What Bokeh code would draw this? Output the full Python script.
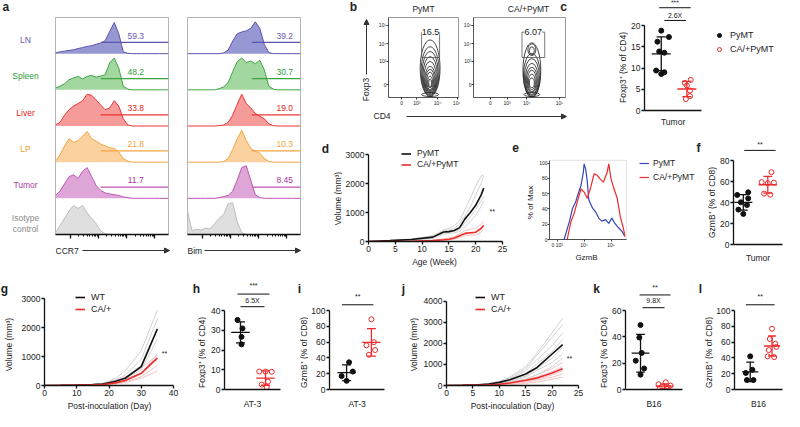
import numpy as np
from bokeh.plotting import figure
from bokeh.layouts import row, column
from bokeh.models import Arrow, NormalHead, Legend, LegendItem, FixedTicker, Range1d, BoxAnnotation
from bokeh.core.properties import value
from bokeh.embed import file_html
from bokeh.resources import INLINE

FONT = "Liberation Sans"
INK = "#222222"
RED = "#ee2b2b"
GREY = "#d2d2d2"
PINK = "#f6c4c4"

# ---------------- data: panel a (flow histograms) ----------------
a_rows = ["LN", "Spleen", "Liver", "LP", "Tumor"]
a_text = ["#6a55b2", "#2f9e3a", "#e52222", "#f2a12e", "#a8359c", "#8a8a8a"]
a_fill = ["#8585cc", "#93d08f", "#f38a88", "#f9c98e", "#d896d0", "#d9d9d9"]
a_line = ["#5a55ad", "#3da343", "#ee3535", "#f3a443", "#bf55b4", "#bdbdbd"]
hist_x = [0, 4, 8, 12, 16, 20, 24, 28, 32, 36, 40, 44, 48, 52, 56, 60, 64, 68, 72, 76, 80, 84, 88, 92, 96, 100]
ccr7_ln = [0.02, 0.05, 0.07, 0.09, 0.11, 0.14, 0.17, 0.20, 0.22, 0.26, 0.29, 0.36, 0.62, 0.86, 0.55, 0.05, 0.01, 0, 0, 0, 0, 0, 0, 0, 0, 0]
ccr7_spleen = [0.05, 0.10, 0.17, 0.28, 0.33, 0.37, 0.30, 0.37, 0.40, 0.35, 0.38, 0.42, 0.75, 0.88, 0.60, 0.10, 0.02, 0, 0, 0, 0, 0, 0, 0, 0, 0]
ccr7_liver = [0.03, 0.10, 0.30, 0.45, 0.55, 0.62, 0.70, 0.88, 0.85, 0.72, 0.58, 0.45, 0.50, 0.70, 0.55, 0.20, 0.03, 0, 0, 0, 0, 0, 0, 0, 0, 0]
ccr7_lp = [0.03, 0.20, 0.45, 0.65, 0.55, 0.60, 0.72, 0.85, 0.65, 0.58, 0.50, 0.45, 0.40, 0.38, 0.28, 0.10, 0.03, 0, 0, 0, 0, 0, 0, 0, 0, 0]
ccr7_tumor = [0.08, 0.20, 0.40, 0.60, 0.65, 0.55, 0.75, 0.85, 0.60, 0.35, 0.22, 0.15, 0.12, 0.10, 0.08, 0.04, 0.02, 0, 0, 0, 0, 0, 0, 0, 0, 0]
ccr7_iso = [0.05, 0.25, 0.45, 0.65, 0.80, 0.72, 0.80, 0.60, 0.45, 0.30, 0.10, 0.02, 0, 0, 0, 0, 0, 0, 0, 0, 0, 0, 0, 0, 0, 0]
bim_ln = [0, 0, 0, 0, 0, 0, 0, 0, 0.02, 0.10, 0.35, 0.55, 0.60, 0.63, 0.70, 0.88, 0.70, 0.25, 0.03, 0, 0, 0, 0, 0, 0, 0]
bim_spleen = [0, 0, 0, 0, 0, 0, 0, 0.03, 0.08, 0.20, 0.50, 0.78, 0.88, 0.75, 0.80, 0.72, 0.82, 0.55, 0.10, 0.02, 0, 0, 0, 0, 0, 0]
bim_liver = [0, 0, 0, 0, 0, 0, 0, 0.01, 0.03, 0.10, 0.30, 0.60, 0.88, 0.62, 0.50, 0.35, 0.27, 0.20, 0.06, 0.01, 0, 0, 0, 0, 0, 0]
bim_lp = [0, 0, 0, 0, 0, 0, 0, 0, 0.02, 0.10, 0.35, 0.65, 0.88, 0.60, 0.38, 0.30, 0.25, 0.10, 0.02, 0, 0, 0, 0, 0, 0, 0]
bim_tumor = [0, 0, 0, 0, 0, 0, 0, 0.02, 0.05, 0.08, 0.20, 0.50, 0.85, 0.90, 0.50, 0.10, 0.02, 0, 0, 0, 0, 0, 0, 0, 0, 0]
bim_iso = [0.65, 0.10, 0.15, 0.12, 0.18, 0.15, 0.30, 0.45, 0.55, 0.85, 0.88, 0.35, 0.05, 0, 0, 0, 0, 0, 0, 0, 0, 0, 0, 0, 0, 0]
ccr7_pct = ["59.3", "48.2", "33.8", "21.8", "11.7"]
bim_pct = ["39.2", "30.7", "19.0", "10.3", "8.45"]

# ---------------- data: panel b (contours) ----------------
flow_yticks = [0, 24, 42, 61]
flow_ylabels = ["0", "10³", "10⁴", "10⁵"]
b1_xticks = [1.0, 1.8, 2.9, 3.95]
b2_xticks = [1.0, 1.85, 2.85, 4.5]
flow_xlabels = ["0", "10³", "10⁴", "10⁵"]
pymt_cx = 2.5
pymt_cy = [17, 14, 12, 10, 8, 6, 5, 4, 3, 2, -10]
pymt_w = [1.05, 0.95, 0.85, 0.75, 0.65, 0.55, 0.45, 0.35, 0.25, 0.15, 0.9]
pymt_h = [58, 50, 44, 38, 32, 26, 22, 18, 12, 8, 4]
ca_cx = 3.1
ca_cy = [15, 10, 8, 6, 5, 4, 3, 2, 36, 35, -10]
ca_w = [0.9, 0.85, 0.75, 0.65, 0.55, 0.45, 0.35, 0.25, 0.4, 0.25, 0.8]
ca_h = [56, 44, 38, 32, 26, 22, 16, 10, 12, 8, 4]
pymt_gate = [2.05, 3.0, 28, 54]
ca_gate = [2.6, 3.75, 28, 54]

# ---------------- data: dot plots ----------------
c_pymt = [18.8, 17.3, 16.2, 13.9, 13.6, 9.4, 9.0, 8.6]
c_pymt_dx = [0, 0.3, -0.15, -0.08, 0.12, -0.2, 0.12, 0]
c_ca = [7.2, 6.5, 5.9, 4.7, 3.4, 2.7]
c_ca_dx = [0.15, -0.08, 0, 0.12, 0.12, -0.04]
f_pymt = [49.8, 47.3, 44.0, 40.3, 37.7, 33.3, 29.2]
f_pymt_dx = [0.2, -0.25, 0.2, -0.1, 0.15, -0.2, 0.0]
f_ca = [69, 59.5, 58.5, 59, 48.5, 47.5]
f_ca_dx = [0.15, -0.25, 0.0, 0.25, -0.15, 0.1]
h_wt = [35.3, 31.0, 26.7, 22.9]
h_wt_dx = [-0.12, 0.08, 0.04, 0.04]
h_ca = [9.1, 9.1, 9.0, 4.0, 2.5, 1.2]
h_ca_dx = [-0.25, 0.0, 0.25, 0.1, -0.15, 0.05]
i_wt = [34.5, 22.7, 17.0, 11.0]
i_wt_dx = [0.1, 0.25, -0.2, 0.0]
i_ca = [89, 60, 56, 50, 44]
i_ca_dx = [0.0, 0.1, -0.2, 0.15, -0.1]
k_wt = [49.0, 39.5, 27.8, 21.9, 16.0, 11.3]
k_wt_dx = [0, -0.05, 0.05, -0.2, 0.15, 0.0]
k_ca = [5.5, 4.0, 3.0, 2.0, 1.5, 1.0, 0.5]
k_ca_dx = [0.05, -0.25, 0.25, -0.1, 0.15, -0.2, 0.1]
l_wt = [42, 25, 21, 12, 12]
l_wt_dx = [0.0, 0.1, -0.2, -0.15, 0.15]
l_ca = [77, 64, 58, 54, 50, 42, 41]
l_ca_dx = [0.0, -0.1, 0.15, 0.2, -0.15, -0.2, 0.1]

# ---------------- data: growth curves ----------------
d_week = [0, 4, 8, 12, 14, 15, 16, 17, 18, 19, 20, 21, 21.5]
d_pymt = [0, 30, 70, 150, 330, 340, 380, 480, 780, 1000, 1250, 1600, 1840]
d_ca = [0, 0, 10, 30, 60, 80, 120, 200, 280, 300, 320, 450, 560]
d_pymt_ind = [
    [0, 40, 90, 200, 400, 450, 550, 700, 1100, 1500, 1900, 2250, 2300],
    [0, 30, 80, 170, 350, 400, 450, 600, 900, 1200, 1600, 2000, 2250],
    [0, 20, 60, 130, 300, 320, 350, 420, 650, 850, 1100, 1400, 1550],
    [0, 20, 50, 100, 250, 280, 300, 350, 500, 700, 900, 1200, 1400],
]
d_ca_ind = [
    [0, 5, 20, 50, 90, 120, 170, 260, 380, 420, 450, 600, 700],
    [0, 0, 10, 30, 60, 80, 110, 180, 250, 280, 300, 400, 520],
    [0, 0, 5, 15, 30, 50, 80, 140, 200, 220, 230, 320, 420],
]
g_day = [0, 5, 10, 15, 18, 20, 22, 25, 30, 35]
g_wt = [0, 5, 15, 30, 50, 90, 150, 250, 650, 1950]
g_ca = [0, 3, 10, 20, 35, 60, 90, 170, 420, 950]
g_wt_ind = [
    [0, 5, 20, 40, 80, 150, 250, 500, 1200, 2600],
    [0, 5, 15, 35, 60, 120, 200, 350, 900, 2300],
    [0, 5, 10, 30, 50, 80, 150, 250, 700, 2000],
    [0, 5, 10, 25, 40, 70, 120, 200, 550, 1600],
    [0, 0, 10, 20, 30, 60, 100, 150, 400, 1100],
]
g_ca_ind = [
    [0, 5, 15, 30, 60, 100, 160, 280, 600, 1050],
    [0, 3, 10, 25, 40, 70, 100, 180, 420, 900],
    [0, 2, 8, 15, 25, 50, 70, 120, 300, 700],
    [0, 0, 5, 10, 20, 30, 50, 100, 250, 500],
]
j_day = [0, 3, 6, 8, 10, 12, 15, 17, 20, 22]
j_wt = [0, 10, 30, 70, 150, 270, 550, 830, 1500, 1950]
j_ca = [0, 5, 15, 30, 60, 120, 250, 350, 600, 800]
j_wt_ind = [
    [0, 10, 30, 80, 200, 400, 900, 1500, 2500, 3200],
    [0, 10, 30, 80, 180, 350, 800, 1400, 2300, 2900],
    [0, 10, 25, 60, 150, 300, 700, 1200, 1900, 2500],
    [0, 5, 20, 50, 120, 250, 550, 1000, 1600, 2200],
    [0, 5, 20, 50, 120, 220, 450, 800, 1300, 1800],
    [0, 5, 15, 40, 100, 200, 400, 700, 1100, 1500],
    [0, 5, 15, 30, 80, 150, 300, 500, 900, 1300],
]
j_ca_ind = [
    [0, 5, 20, 40, 80, 150, 300, 500, 800, 1100],
    [0, 5, 15, 30, 60, 120, 250, 400, 650, 900],
    [0, 3, 10, 25, 50, 100, 200, 300, 500, 700],
    [0, 2, 8, 20, 40, 80, 150, 250, 400, 550],
    [0, 0, 5, 10, 25, 50, 100, 150, 300, 400],
]

# ---------------- data: panel e (GzmB histogram) ----------------
e_pymt_x = [19, 26, 30, 34, 36, 41, 44, 45, 47, 49, 51, 56, 60, 64, 68, 73, 77, 81, 85, 90, 94, 98]
e_pymt_y = [0, 24, 41, 49, 56, 71, 88, 99, 92, 77, 52, 41, 36, 28, 24, 26, 21, 28, 21, 15, 11, 4]
e_ca_x = [23, 28, 32, 36, 41, 45, 49, 53, 58, 62, 66, 70, 75, 77, 80, 83, 88, 92, 96, 98]
e_ca_y = [0, 24, 34, 49, 66, 62, 54, 66, 86, 84, 79, 75, 88, 99, 79, 69, 54, 30, 15, 4]
e_xticks = [10, 45, 80]
e_xlabels = ["0 10³", "10⁴", "10⁵"]


# ---------------- helpers ----------------
def base_fig(box, frame, xr, yr, xaxis, yaxis):
    x0, y0, x1, y1 = box
    fl, ft, fr, fb = frame
    p = figure(width=x1 - x0, height=y1 - y0,
               x_range=Range1d(*xr), y_range=Range1d(*yr),
               min_border_left=fl - x0, min_border_right=x1 - fr,
               min_border_top=ft - y0, min_border_bottom=y1 - fb,
               x_axis_location="below" if xaxis else None,
               y_axis_location="left" if yaxis else None,
               output_backend="svg", toolbar_location=None, frame_align=False)
    p.grid.visible = False
    p.outline_line_color = None
    p.border_fill_color = "white"
    return p


class Panel:
    def __init__(self, box, frame, xr, yr, xaxis=True, yaxis=True, tick_size="8.5px"):
        self.frame = frame
        p = base_fig(box, frame, xr, yr, xaxis, yaxis)
        for ax in p.axis:
            ax.axis_line_width = 1.3
            ax.axis_line_color = "#111111"
            ax.major_tick_line_width = 1.3
            ax.major_tick_line_color = "#111111"
            ax.major_tick_out = 3
            ax.major_tick_in = 0
            ax.minor_tick_line_color = None
            ax.major_label_text_font = FONT
            ax.major_label_text_font_size = tick_size
            ax.major_label_text_color = INK
            ax.major_label_standoff = 1
        self.p = p

    def legend(self, items, sx, sy_top, item_h, size="8.5px", standoff=6):
        fl, ft, fr, fb = self.frame
        n = len(items)
        lg = Legend(items=items, location=(sx - fl, fb - (sy_top + n * item_h)),
                    orientation="vertical", border_line_color=None, background_fill_alpha=0,
                    padding=0, margin=0, spacing=0, glyph_height=item_h, glyph_width=10,
                    label_height=item_h, label_standoff=standoff, label_text_font=FONT,
                    label_text_font_size=size, label_text_color=INK)
        self.p.add_layout(lg)


class TextFig:
    """A strip of page used only for free text; its ranges are page pixels."""
    def __init__(self, box):
        x0, y0, x1, y1 = box
        p = figure(width=x1 - x0, height=y1 - y0, x_range=Range1d(x0, x1), y_range=Range1d(y1, y0),
                   min_border=0, x_axis_location=None, y_axis_location=None,
                   output_backend="svg", toolbar_location=None, frame_align=False)
        p.grid.visible = False
        p.outline_line_color = None
        p.border_fill_color = "white"
        self.p = p

    def text(self, txt, x, y, size=8.5, color=INK, align="center", angle=0, bold=False):
        self.p.text(x=[x], y=[y], text=[txt], text_font=value(FONT), text_font_size=f"{size}px",
                    text_color=color, text_align=align, text_baseline="middle", angle=angle,
                    text_font_style="bold" if bold else "normal")

    def arrow(self, x0, y0, x1, y1, head=True):
        self.p.add_layout(Arrow(
            x_start=x0, y_start=y0, x_end=x1, y_end=y1, line_color="#333333", line_width=1,
            end=NormalHead(size=5, fill_color="#333333", line_color="#333333") if head else None))


def sig_text(p, x, y, txt, size="7px"):
    p.text(x=[x], y=[y], text=[txt], text_font=value(FONT), text_font_size=size,
           text_align="center", text_baseline="middle", text_color=INK)


def hist_panel(box, frame, rows, pcts, gate_from, pct_x):
    P = Panel(box, frame, (0, 100), (0, 6), xaxis=True, yaxis=False)
    p = P.p
    p.outline_line_color = "#b5b5b5"
    ax = p.xaxis[0]
    majors = [13, 38, 63, 88]
    minors = []
    for m in majors[:-1]:
        minors += [m + 25 * np.log10(k) for k in range(2, 10)]
    ax.ticker = FixedTicker(ticks=majors, minor_ticks=minors)
    ax.major_label_overrides = {m: "" for m in majors}
    ax.major_tick_out = 4
    ax.minor_tick_line_color = "#111111"
    ax.minor_tick_out = 2
    ax.axis_line_width = 1.6
    for i, h in enumerate(rows):
        base = 5 - i
        top = [base + v for v in h]
        p.varea(x=hist_x, y1=[base] * len(hist_x), y2=top, fill_color=a_fill[i], fill_alpha=0.85)
        p.line(hist_x, top, line_color=a_line[i], line_width=1)
        if i < len(pcts):
            p.segment(x0=[gate_from], y0=[base + 0.31], x1=[100], y1=[base + 0.31],
                      line_color=a_line[i], line_width=1.2)
            p.text(x=[pct_x], y=[base + 0.5], text=[pcts[i]], text_font=value(FONT),
                   text_font_size="8.5px", text_align="center", text_baseline="middle",
                   text_color=a_text[i])
    return P


def flow_panel(box, frame, xr, xticks, cx, cy, w, h, gate, gate_txt):
    P = Panel(box, frame, xr, (-13, 69), tick_size="5px")
    p = P.p
    p.outline_line_color = "#9a9a9a"
    for ax in p.axis:
        ax.axis_line_width = 0.8
        ax.axis_line_color = "#444444"
        ax.major_tick_line_width = 0.8
        ax.major_tick_out = 2
        ax.major_label_standoff = 0
    p.xaxis.ticker = FixedTicker(ticks=xticks)
    p.xaxis.major_label_overrides = dict(zip(xticks, flow_xlabels))
    p.yaxis.ticker = FixedTicker(ticks=flow_yticks)
    p.yaxis.major_label_overrides = dict(zip(flow_yticks, flow_ylabels))
    p.ellipse(x=[cx] * len(cy), y=cy, width=w, height=h, fill_color=None,
              line_color="#1a1a1a", line_width=0.8)
    gx0, gx1, gy0, gy1 = gate
    p.line([gx0, gx0, gx1, gx1, gx0], [gy0, gy1, gy1, gy0, gy0], line_color="#555555", line_width=0.8)
    p.text(x=[(gx0 + gx1) / 2], y=[gy1], text=[gate_txt], text_font=value(FONT),
           text_font_size="9px", text_align="center", text_baseline="middle",
           text_color=INK, background_fill_color="white")
    return P


def dot_panel(box, frame, xr, yr, yticks, xbound_r, cat, a, adx, b, bdx, sigs, cat_off=3):
    P = Panel(box, frame, xr, yr)
    p = P.p
    p.yaxis.ticker = FixedTicker(ticks=yticks)
    p.yaxis.bounds = (0, yticks[-1])
    xc = round((xr[0] + xbound_r) / 2, 3)
    p.xaxis.bounds = (xr[0], xbound_r)
    p.xaxis.ticker = FixedTicker(ticks=[xc])
    p.xaxis.major_label_overrides = {xc: cat}
    p.xaxis.major_tick_line_color = None
    p.xaxis.major_label_standoff = cat_off
    rends = []
    for k, (vals, dx, col) in enumerate([(a, adx, "#111111"), (b, bdx, RED)]):
        xg = 1 + k
        m = float(np.mean(vals))
        sd = float(np.std(vals, ddof=1))
        p.segment(x0=[xg - 0.37, xg, xg - 0.18, xg - 0.18],
                  y0=[m, m - sd, m - sd, m + sd],
                  x1=[xg + 0.37, xg, xg + 0.18, xg + 0.18],
                  y1=[m, m + sd, m - sd, m + sd], line_color=col, line_width=1.3)
        xs = [xg + d for d in dx]
        if k == 0:
            r = p.scatter(xs, vals, marker="circle", size=5, fill_color="#111111", line_color="#111111")
        else:
            r = p.scatter(xs, vals, marker="circle", size=5, fill_alpha=0, line_color=RED, line_width=1)
        rends.append(r)
    for (x0, x1, y, txt, ty) in sigs:
        p.segment(x0=[x0], y0=[y], x1=[x1], y1=[y], line_color="#111111", line_width=1)
        sig_text(p, (x0 + x1) / 2, ty, txt)
    return P, rends


def growth_panel(box, frame, xr, yr, xticks, yticks, t, mean_a, mean_b, ind_a, ind_b, star):
    P = Panel(box, frame, xr, yr)
    p = P.p
    p.xaxis.ticker = FixedTicker(ticks=xticks)
    p.yaxis.ticker = FixedTicker(ticks=yticks)
    p.yaxis.bounds = (0, yticks[-1])
    for s in ind_b:
        p.line(t, s, line_color=PINK, line_width=1)
    for s in ind_a:
        p.line(t, s, line_color=GREY, line_width=1)
    ra = p.line(t, mean_a, line_color="#111111", line_width=1.6)
    rb = p.line(t, mean_b, line_color=RED, line_width=1.6)
    sig_text(p, star[0], star[1], "**")
    return P, ra, rb


# ---------------- panel a ----------------
ALAB = TextFig((8, 8, 63, 275))
ALAB.text("a", 10, 14, size=12, bold=True, align="left")
row_px = 217 / 6
for i, name in enumerate(a_rows):
    ALAB.text(name, 33, 25 + row_px * (i + 0.63), color=a_text[i])
ALAB.text("Isotype", 33, 25 + row_px * 5.55, color=a_text[5])
ALAB.text("control", 33, 25 + row_px * 5.85, color=a_text[5])

A1 = hist_panel((63, 8, 184, 250), (63, 25, 176, 242),
                [ccr7_ln, ccr7_spleen, ccr7_liver, ccr7_lp, ccr7_tumor, ccr7_iso], ccr7_pct, 40, 71)
A2 = hist_panel((184, 8, 318, 250), (195, 25, 308, 242),
                [bim_ln, bim_spleen, bim_liver, bim_lp, bim_tumor, bim_iso], bim_pct, 57, 86)
A1S = TextFig((63, 250, 184, 275))
A1S.text("CCR7", 63, 258, align="left")
A1S.arrow(90, 258, 177, 258)
A2S = TextFig((184, 250, 318, 275))
A2S.text("Bim", 195, 258, align="left")
A2S.arrow(212, 258, 308, 258)

# ---------------- panel b ----------------
BTOP = TextFig((318, 8, 578, 25))
BTOP.text("b", 361, 14, size=12, bold=True)
BTOP.text("PyMT", 431, 16)
BTOP.text("CA/+PyMT", 536, 16)
BTOP.text("c", 571, 14, size=12, bold=True)
BLEFT = TextFig((318, 25, 383, 116))
BLEFT.text("Foxp3", 373, 97, angle=np.pi / 2)
BLEFT.arrow(374, 82, 374, 27)
B1 = flow_panel((383, 25, 468, 116), (393, 25, 466, 107), (0.3, 4.0), b1_xticks,
                pymt_cx, pymt_cy, pymt_w, pymt_h, pymt_gate, "16.5")
B2 = flow_panel((468, 25, 578, 116), (480, 25, 573, 107), (0.15, 4.8), b2_xticks,
                ca_cx, ca_cy, ca_w, ca_h, ca_gate, "6.07")
BBOT = TextFig((318, 116, 578, 140))
BBOT.text("CD4", 381, 123, align="left")
BBOT.arrow(414, 124, 574, 124)

# ---------------- panel c ----------------
CLAB = TextFig((578, 8, 636, 140))
CLAB.text("Foxp3⁺ (% of CD4)", 630, 75, angle=np.pi / 2)
C, c_r = dot_panel((636, 8, 792, 140), (650, 8, 792, 118), (0.346, 5.81), (0, 25.9),
                   [0, 5, 10, 15, 20], 2.58, "Tumor", c_pymt, c_pymt_dx, c_ca, c_ca_dx,
                   [(0.92, 2.15, 24.2, "***", 25.4), (1.12, 1.96, 21.2, "2.6X", 22.4)], cat_off=3)
C.legend([LegendItem(label="PyMT", renderers=[c_r[0]]),
          LegendItem(label="CA/+PyMT", renderers=[c_r[1]])], 720, 36, 14, size="9px")

# ---------------- panel d ----------------
DLAB = TextFig((318, 140, 350, 275))
DLAB.text("d", 333, 156, size=12, bold=True)
DLAB.text("Volume (mm³)", 345, 206, angle=np.pi / 2)
D, d_a, d_b = growth_panel((350, 140, 518, 263), (375, 150, 510, 249), (0, 25), (0, 3414),
                           [0, 5, 10, 15, 20, 25], [0, 1000, 2000, 3000],
                           d_week, d_pymt, d_ca, d_pymt_ind, d_ca_ind, (23.1, 1034))
D.legend([LegendItem(label="PyMT", renderers=[d_a]),
          LegendItem(label="CA/+PyMT", renderers=[d_b])], 408, 155.5, 11)
DS = TextFig((350, 263, 518, 275))
DS.text("Age (Week)", 442, 269)

# ---------------- panel e ----------------
ELAB = TextFig((518, 140, 544, 275))
ELAB.text("e", 523, 155, size=12, bold=True)
ELAB.text("% of Max", 538, 210, size=8, angle=np.pi / 2)
# frame reaches up to y=158 so the legend stays inside; the box itself ends at 103.6
E = Panel((544, 140, 703, 258), (555, 158, 703, 249), (0, 100 * 148 / 78), (0, 103.6 + 10 / 0.78),
          tick_size="5px")
pe = E.p
for ax in pe.axis:
    ax.axis_line_width = 0.8
    ax.major_tick_line_width = 0.8
    ax.major_tick_out = 2
    ax.major_label_standoff = 0
pe.xaxis.bounds = (0, 100)
pe.yaxis.bounds = (0, 103.6)
pe.xaxis.ticker = FixedTicker(ticks=e_xticks)
pe.xaxis.major_label_overrides = dict(zip(e_xticks, e_xlabels))
pe.yaxis.ticker = FixedTicker(ticks=[0, 20, 40, 60, 80, 100])
pe.add_layout(BoxAnnotation(left=0, right=100, bottom=0, top=103.6, fill_alpha=0,
                            line_color="#9a9a9a", line_width=1))
e_b = pe.line(e_pymt_x, e_pymt_y, line_color="#3646b8", line_width=1.2)
e_r = pe.line(e_ca_x, e_ca_y, line_color=RED, line_width=1.2)
E.legend([LegendItem(label="PyMT", renderers=[e_b]),
          LegendItem(label="CA/+PyMT", renderers=[e_r])], 645, 166, 14, size="8.5px", standoff=4)
ES = TextFig((544, 258, 703, 275))
ES.text("GzmB", 594, 265, size=8)

# ---------------- panel f ----------------
FLAB = TextFig((703, 140, 725, 275))
FLAB.text("f", 706, 155, size=12, bold=True)
FLAB.text("GzmB⁺ (% of CD8)", 719, 210, angle=np.pi / 2)
F, _ = dot_panel((725, 140, 792, 275), (740, 143, 790, 252), (0.6, 2.6), (0, 104),
                 [0, 20, 40, 60, 80], 2.6, "Tumor", f_pymt, f_pymt_dx, f_ca, f_ca_dx,
                 [(1.04, 2.32, 89.8, "**", 95.5)], cat_off=5)

# ---------------- panel g ----------------
GLAB = TextFig((8, 275, 24, 419))
GLAB.text("g", 12, 296, size=12, bold=True)
GLAB.text("Volume (mm³)", 16, 352, angle=np.pi / 2)
G, g_a, g_b = growth_panel((24, 275, 200, 407), (52, 286, 181, 393), (0, 40), (0, 3690),
                           [0, 10, 20, 30, 40], [0, 1000, 2000, 3000],
                           g_day, g_wt, g_ca, g_wt_ind, g_ca_ind, (37.2, 1103))
G.legend([LegendItem(label="WT", renderers=[g_a]),
          LegendItem(label="CA/+", renderers=[g_b])], 83, 299, 12, size="9px")
GS = TextFig((24, 407, 200, 419))
GS.text("Post-inoculation (Day)", 117, 413)

# ---------------- panel h ----------------
HLAB = TextFig((200, 275, 214, 419))
HLAB.text("h", 204, 296, size=12, bold=True)
HLAB.text("Foxp3⁺ (% of CD4)", 209, 360, angle=np.pi / 2)
H, _ = dot_panel((214, 275, 300, 419), (232, 286, 290, 400), (0.36, 2.68), (0, 56.3),
                 [0, 10, 20, 30, 40], 2.6, "AT-3", h_wt, h_wt_dx, h_ca, h_ca_dx,
                 [(0.88, 2.16, 48.4, "***", 52.6), (1.0, 1.96, 42.0, "6.5X", 44.9)], cat_off=6)

# ---------------- panel i ----------------
ILAB = TextFig((300, 275, 316, 419))
ILAB.text("i", 307, 296, size=12, bold=True)
ILAB.text("GzmB⁺ (% of CD8)", 311, 360, angle=np.pi / 2)
I, _ = dot_panel((316, 275, 405, 419), (334, 286, 395, 400), (0.31, 2.65), (0, 140.7),
                 [0, 20, 40, 60, 80, 100], 2.54, "AT-3", i_wt, i_wt_dx, i_ca, i_ca_dx,
                 [(0.81, 2.08, 107.4, "**", 118.5)], cat_off=6)

# ---------------- panel j ----------------
JLAB = TextFig((405, 275, 427, 419))
JLAB.text("j", 411, 296, size=12, bold=True)
JLAB.text("Volume (mm³)", 421, 352, angle=np.pi / 2)
J, j_a, j_b = growth_panel((427, 275, 600, 407), (454, 286, 586, 393), (0, 25), (0, 5095),
                           [0, 5, 10, 15, 20, 25], [0, 1000, 2000, 3000, 4000],
                           j_day, j_wt, j_ca, j_wt_ind, j_ca_ind, (23.3, 1286))
J.legend([LegendItem(label="WT", renderers=[j_a]),
          LegendItem(label="CA/+", renderers=[j_b])], 483, 299, 12, size="9px")
JS = TextFig((427, 407, 600, 419))
JS.text("Post-inoculation (Day)", 520, 413)

# ---------------- panel k ----------------
KLAB = TextFig((600, 275, 616, 419))
KLAB.text("k", 604, 296, size=12, bold=True)
KLAB.text("Foxp3⁺ (% of CD4)", 611, 360, angle=np.pi / 2)
K, _ = dot_panel((616, 275, 702, 419), (633, 286, 692, 400), (0.375, 2.83), (0, 84.4),
                 [0, 20, 40, 60], 2.75, "B16", k_wt, k_wt_dx, k_ca, k_ca_dx,
                 [(0.96, 2.25, 71.9, "**", 77.8), (1.08, 2.0, 62.2, "9.8X", 67.4)], cat_off=6)

# ---------------- panel l ----------------
LLAB = TextFig((702, 275, 721, 419))
LLAB.text("l", 708, 296, size=12, bold=True)
LLAB.text("GzmB⁺ (% of CD8)", 716, 360, angle=np.pi / 2)
L, _ = dot_panel((721, 275, 792, 419), (737, 286, 790, 400), (0.28, 2.48), (0, 140.7),
                 [0, 20, 40, 60, 80, 100], 2.48, "B16", l_wt, l_wt_dx, l_ca, l_ca_dx,
                 [(0.8, 2.12, 107.4, "**", 118.5)], cat_off=6)

# ---------------- layout ----------------
bcol = column(BTOP.p, row(BLEFT.p, B1.p, B2.p), BBOT.p)
upper = row(bcol, CLAB.p, C.p)
lower = row(DLAB.p, column(D.p, DS.p), ELAB.p, column(E.p, ES.p), FLAB.p, F.p)
right = column(upper, lower)
top = row(ALAB.p, column(A1.p, A1S.p), column(A2.p, A2S.p), right)
bottom = row(GLAB.p, column(G.p, GS.p), HLAB.p, H.p, ILAB.p, I.p, JLAB.p, column(J.p, JS.p),
             KLAB.p, K.p, LLAB.p, L.p)
layout = column(top, bottom)

open("out.html", "w").write(file_html(layout, INLINE, title="figure"))
